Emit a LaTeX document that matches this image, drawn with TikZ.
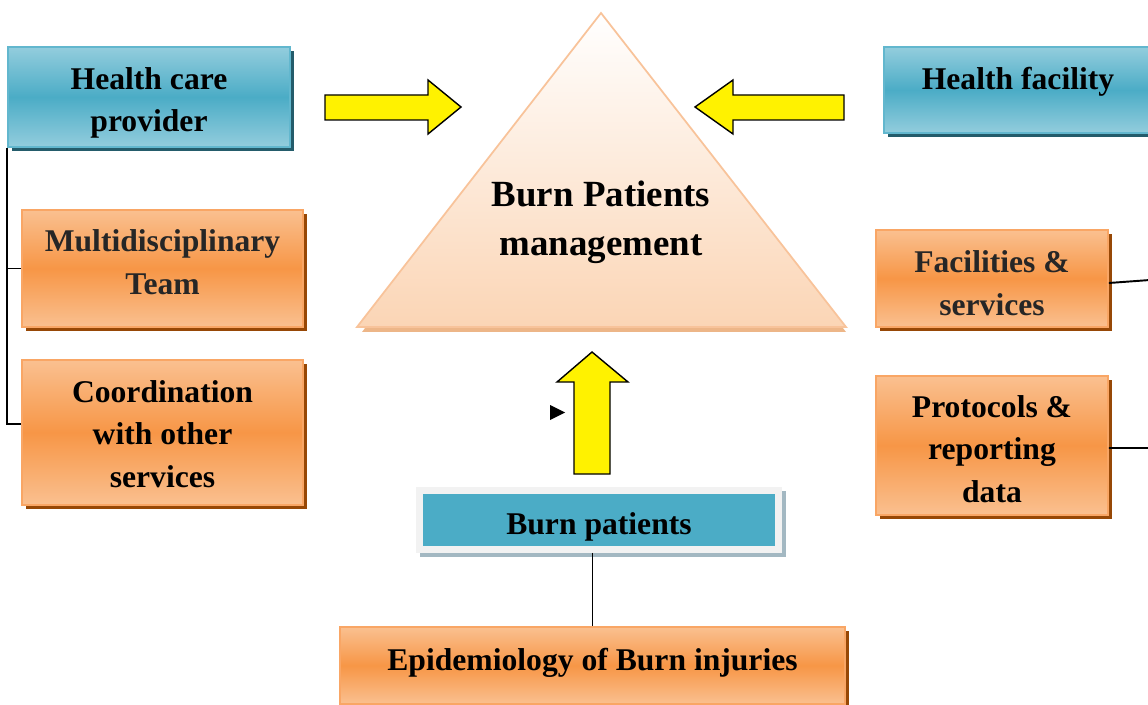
\documentclass[tikz,border=0pt]{standalone}
\usepackage{fontspec}
\setmainfont{Liberation Serif}
\usetikzlibrary{shadows}

\definecolor{bluemid}{HTML}{4BACC6}
\definecolor{bluelight}{HTML}{93CDDD}
\definecolor{blueedge}{HTML}{62B7CE}
\definecolor{blueshadow}{HTML}{245C6B}
\definecolor{orangemid}{HTML}{F79646}
\definecolor{orangelight}{HTML}{FAC090}
\definecolor{orangeedge}{HTML}{F9A665}
\definecolor{orangeshadow}{HTML}{974806}
\definecolor{peach}{HTML}{FBD5B5}
\definecolor{peachedge}{HTML}{F8C39A}
\definecolor{framegray}{HTML}{F2F2F2}
\definecolor{frameshadow}{HTML}{A3B8C2}
\definecolor{darktext}{HTML}{262626}

% lines of a box, moved up (or down) by the optional length
\newcommand{\txtlines}[2][0cm]{\raisebox{#1}[\height][\depth]{\begin{tabular}{@{}c@{}}#2\end{tabular}}}

\tikzset{
  boxtext/.style={align=center, inner sep=0pt, font=\fontsize{18}{24}\selectfont\bfseries},
  bluebox/.style={boxtext, draw=blueedge, line width=1pt,
    top color=bluelight, bottom color=bluelight, middle color=bluemid,
    general shadow={fill=blueshadow, shadow xshift=0.08cm, shadow yshift=-0.08cm}},
  orangebox/.style={boxtext, draw=orangeedge, line width=1pt,
    top color=orangelight, bottom color=orangelight, middle color=orangemid,
    general shadow={fill=orangeshadow, shadow xshift=0.08cm, shadow yshift=-0.08cm}},
  bigarrow/.style={fill=yellow, draw=black, line width=0.8pt, line join=miter},
  link/.style={draw=black, line width=1.1pt}
}

\begin{document}
\begin{tikzpicture}[x=0.02cm,y=-0.02cm]
  \useasboundingbox (0,0) rectangle (1148,705);

  % triangle
  \fill[peachedge!80!brown] (601,16) -- (846,332) -- (362,332) -- cycle;
  \shade[top color=white, bottom color=peach, draw=peachedge, line width=1pt]
    (601,13) -- (846,327) -- (357,327) -- cycle;
  \node[boxtext, font=\fontsize{21}{28}\selectfont\bfseries] (mgmt) at (601,219)
    {\txtlines[-0.04cm]{Burn Patients\\management}};

  % boxes
  \node[bluebox, minimum width=5.64cm, minimum height=2cm] (hcp) at (149,97)
    {\txtlines[-0.1cm]{Health care\\provider}};
  \node[bluebox, minimum width=5.36cm, minimum height=1.72cm] (hf) at (1018,90)
    {\txtlines[0.18cm]{Health facility}};

  \node[orangebox, text=darktext, minimum width=5.62cm, minimum height=2.34cm] (team) at (162.5,268.5)
    {\txtlines[0.08cm]{Multidisciplinary\\Team}};
  \node[orangebox, minimum width=5.62cm, minimum height=2.9cm] (coord) at (162.5,432.5)
    {\txtlines[-0.08cm]{Coordination\\with other\\services}};

  \node[orangebox, text=darktext, minimum width=4.64cm, minimum height=1.94cm] (fac) at (992,278.5)
    {\txtlines[-0.14cm]{Facilities \&\\services}};
  \node[orangebox, minimum width=4.64cm, minimum height=2.78cm] (prot) at (992,445.5)
    {\txtlines[-0.12cm]{Protocols \&\\reporting\\data}};

  \node[boxtext, fill=bluemid, draw=framegray, line width=0.14cm,
    general shadow={fill=frameshadow, draw=frameshadow, line width=0.14cm,
      shadow xshift=0.08cm, shadow yshift=-0.08cm},
    minimum width=7.18cm, minimum height=1.18cm] (bp) at (599,520)
    {\txtlines[-0.12cm]{Burn patients}};

  \node[orangebox, minimum width=10.1cm, minimum height=1.54cm] (epi) at (592.5,665.5)
    {\txtlines[0.06cm]{Epidemiology of Burn injuries}};

  % block arrows
  \path[bigarrow] (325,95) -- (428,95) -- (428,80) -- (461,107) -- (428,134)
    -- (428,120) -- (325,120) -- cycle;
  \path[bigarrow] (844,95) -- (733,95) -- (733,80) -- (695,107) -- (733,134)
    -- (733,120) -- (844,120) -- cycle;
  \path[bigarrow] (574,474) -- (574,382) -- (557,382) -- (592,352) -- (628,382)
    -- (610,382) -- (610,474) -- cycle;
  \fill (550,405) -- (565,412.5) -- (550,420) -- cycle;

  % connectors
  \coordinate (facend) at (1150,280);
  \coordinate (protend) at (1150,448);
  \path[link] (hcp.south west) |- ([yshift=0.17cm]coord.west);
  \path[link] (hcp.south west |- team.west) -- (team.west);
  \path[link] ([yshift=-0.09cm]fac.east) -- (facend);
  \path[link] ([yshift=-0.05cm]prot.east) -- (protend);
  \path[link] (bp.south -| epi.north) -- (epi.north);

\end{tikzpicture}
\end{document}
